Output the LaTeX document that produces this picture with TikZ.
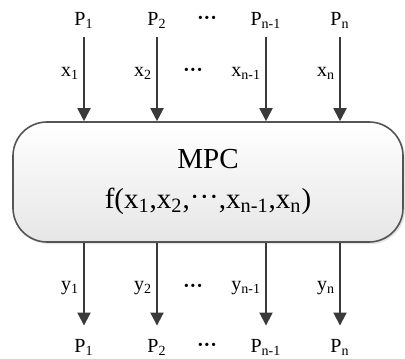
\documentclass[tikz,border=0pt]{standalone}
\usepackage{fontspec}
\setmainfont{Liberation Serif}
\usetikzlibrary{arrows.meta, positioning, shadows}
\definecolor{cArrow}{RGB}{58,58,58}
\definecolor{cEdge}{RGB}{84,84,84}
\definecolor{cShade}{RGB}{230,230,230}
\tikzset{
	plabel/.style  ={inner sep=3pt, font=\fontsize{10}{12}\selectfont},
	vlabel/.style  ={left=1.5pt, inner sep=0.5pt, font=\fontsize{10}{12}\selectfont},
	dotlabel/.style={inner sep=0pt, font=\fontsize{10}{12}\selectfont\bfseries},
	ctrlbox/.style ={rectangle, rounded corners=17pt, draw=cEdge, line width=0.8pt, top color=white, bottom color=cShade, minimum width=195pt, minimum height=60pt, align=center, font=\fontsize{14.5}{20}\selectfont, drop shadow={opacity=0.2, shadow xshift=1pt, shadow yshift=-1pt}},
	sigarrow/.style={-{Triangle[length=6.5pt, width=6.5pt]}, line width=1pt, draw=cArrow},
}
\begin{document}
\begin{tikzpicture}[x=0.5pt, y=0.5pt]
	\useasboundingbox (0,0) rectangle (405,358);
	% controller block
	\node[ctrlbox] (mpc) at (208,176) {MPC\\f(x\textsubscript{1},x\textsubscript{2},\raisebox{0.15ex}{···},x\textsubscript{n-1},x\textsubscript{n})};
	% inputs
	\node[plabel] (pin1) at (84,338) {P\textsubscript{1}};
	\node[plabel] (pin2) at (157,338) {P\textsubscript{2}};
	\node[plabel] (pin3) at (266,338) {P\textsubscript{n-1}};
	\node[plabel] (pin4) at (340,338) {P\textsubscript{n}};
	\node[dotlabel] (pindots) at (207,338) {···};
	\draw[sigarrow, shorten <=1.5pt] (pin1) -- node[vlabel, pos=0.45] {x\textsubscript{1}} (pin1 |- mpc.north);
	\draw[sigarrow, shorten <=1.5pt] (pin2) -- node[vlabel, pos=0.45] {x\textsubscript{2}} (pin2 |- mpc.north);
	\draw[sigarrow, shorten <=1.5pt] (pin3) -- node[vlabel, pos=0.45] {x\textsubscript{n-1}} (pin3 |- mpc.north);
	\draw[sigarrow, shorten <=1.5pt] (pin4) -- node[vlabel, pos=0.45] {x\textsubscript{n}} (pin4 |- mpc.north);
	\node[dotlabel] (xdots) at (193,286) {···};
	% outputs
	\node[plabel] (pout1) at (84,11) {P\textsubscript{1}};
	\node[plabel] (pout2) at (157,11) {P\textsubscript{2}};
	\node[plabel] (pout3) at (266,11) {P\textsubscript{n-1}};
	\node[plabel] (pout4) at (340,11) {P\textsubscript{n}};
	\node[dotlabel] (poutdots) at (207,11) {···};
	\draw[sigarrow, shorten >=3.5pt] (pout1 |- mpc.south) -- node[vlabel] {y\textsubscript{1}} (pout1);
	\draw[sigarrow, shorten >=3.5pt] (pout2 |- mpc.south) -- node[vlabel] {y\textsubscript{2}} (pout2);
	\draw[sigarrow, shorten >=3.5pt] (pout3 |- mpc.south) -- node[vlabel] {y\textsubscript{n-1}} (pout3);
	\draw[sigarrow, shorten >=3.5pt] (pout4 |- mpc.south) -- node[vlabel] {y\textsubscript{n}} (pout4);
	\node[dotlabel] (ydots) at (193,70) {···};
\end{tikzpicture}
\end{document}
